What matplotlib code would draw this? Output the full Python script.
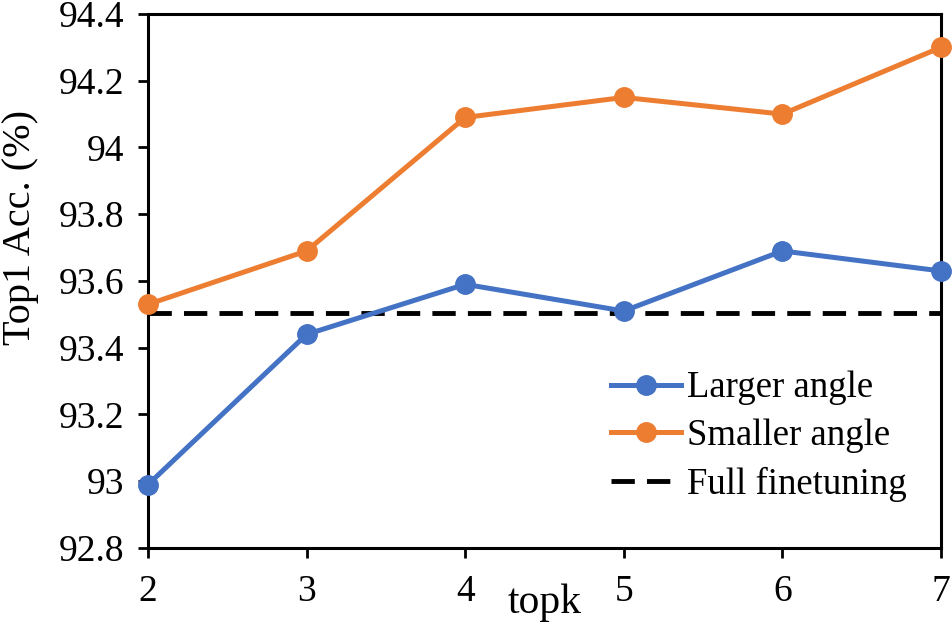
import matplotlib
matplotlib.use("Agg")
import matplotlib.pyplot as plt

# data
topk = [2, 3, 4, 5, 6, 7]
larger_angle = [92.99, 93.44, 93.59, 93.51, 93.69, 93.63]
smaller_angle = [93.53, 93.69, 94.09, 94.15, 94.10, 94.30]
full_finetuning = 93.505
y_ticks = [92.8, 93.0, 93.2, 93.4, 93.6, 93.8, 94.0, 94.2, 94.4]
y_tick_labels = ["92.8", "93", "93.2", "93.4", "93.6", "93.8", "94", "94.2", "94.4"]

plt.rcParams['font.family'] = ['Liberation Serif', 'DejaVu Serif']
plt.rcParams['font.size'] = 27

fig = plt.figure(figsize=(9.52, 6.3), dpi=100)
ax = fig.add_axes([0.1555, 0.1302, 0.8329, 0.8476])

ax.plot(topk, larger_angle, color='#4472C4', lw=3.6, marker='o', ms=14,
        label='Larger angle', clip_on=False, zorder=3)
ax.plot(topk, smaller_angle, color='#ED7D31', lw=3.6, marker='o', ms=14,
        label='Smaller angle', clip_on=False, zorder=3)
ax.plot([topk[0], topk[-1]], [full_finetuning, full_finetuning], color='black',
        lw=3.5, dashes=(4.8, 2.5), label='Full finetuning', zorder=2)

ax.set_xlim(2, 7)
ax.set_ylim(92.8, 94.4)
ax.set_xticks(topk)
ax.set_yticks(y_ticks)
ax.set_yticklabels(y_tick_labels)
ax.tick_params(direction='out', length=7, width=2)
ax.tick_params(axis='x', pad=12)
ax.tick_params(axis='y', pad=10)
for s in ax.spines.values():
    s.set_linewidth(2.2)

ax.set_xlabel('topk', fontsize=30, labelpad=-18)
ax.set_ylabel('Top1 Acc. (%)', fontsize=29, labelpad=8)
ax.yaxis.set_label_coords(-0.138, 0.60)

ax.legend(loc='upper left', bbox_to_anchor=(0.561, 0.366), frameon=False,
          fontsize=26.5, handlelength=1.9, handletextpad=0.15,
          labelspacing=0.36, borderpad=0)

fig.savefig('out.png', dpi=100)
